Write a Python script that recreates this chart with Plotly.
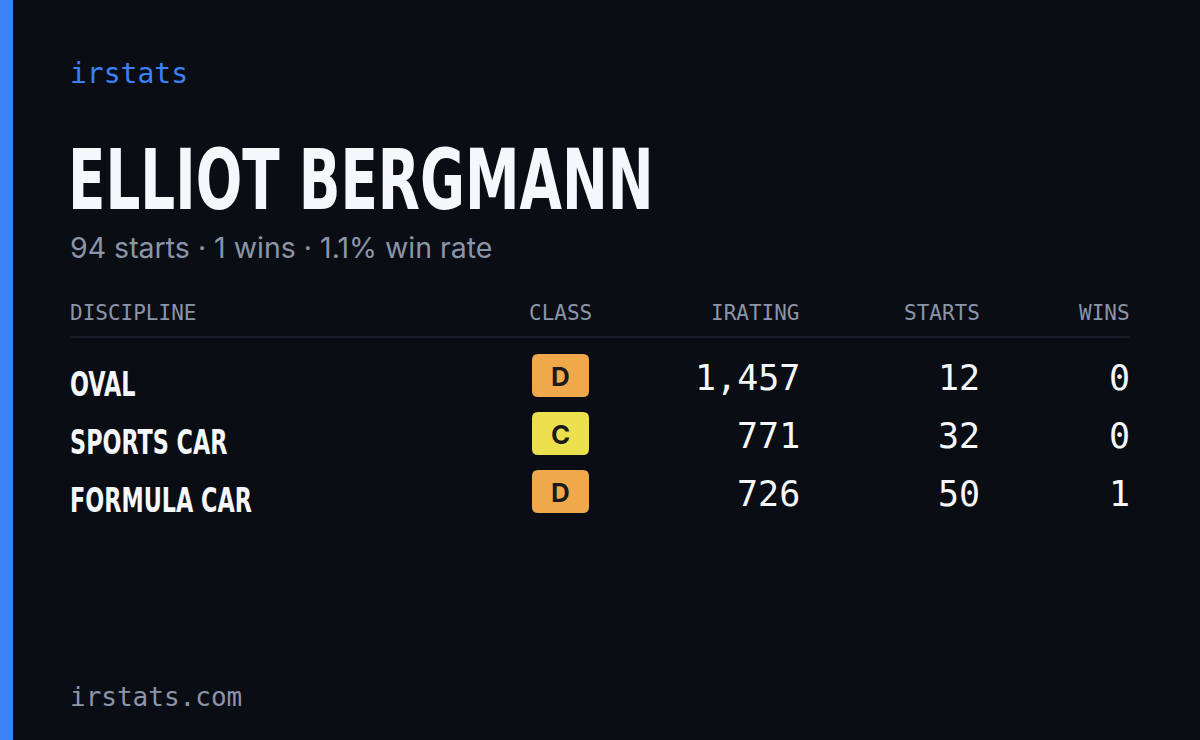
import json
import plotly.graph_objects as go

brand = "irstats"
footer = "irstats.com"
driver = "ELLIOT BERGMANN"
summary = "94 starts · 1 wins · 1.1% win rate"
headers = ["DISCIPLINE", "CLASS", "IRATING", "STARTS", "WINS"]
disciplines = ["OVAL", "SPORTS CAR", "FORMULA CAR"]
classes = ["D", "C", "D"]
iratings = [1457, 771, 726]
starts = [12, 32, 50]
wins = [0, 0, 1]

BG = "#0a0d14"
BLUE = "#3b82f6"
MUTED = "#8b95a8"
WHITE = "#f5f7fa"
CLASS_COL = {"D": "#f0a94a", "C": "#ede04f"}
MONO = "DejaVu Sans Mono"
COND = "DejaVu Sans Condensed"

fig = go.Figure()
ann = []
shapes = []

def A(x, y, t, size, color, family, xanchor="left", weight="normal"):
    ann.append(dict(x=x, y=y, xref="x", yref="y", text=t, showarrow=False,
                    xanchor=xanchor, yanchor="middle",
                    font=dict(size=size, color=color, family=family, weight=weight)))

shapes.append(dict(type="rect", x0=0, x1=13, y0=0, y1=740, fillcolor=BLUE, line_width=0, layer="below"))
A(68, 73, brand, 28, BLUE, MONO)
A(66, 180, driver, 84, WHITE, COND, weight="bold")
A(68, 247, summary, 28.5, MUTED, "Inter")
hx = [(68, "left"), (560, "center"), (802, "right"), (982, "right"), (1132, "right")]
for (x, anc), h in zip(hx, headers):
    A(x, 313, h, 21, MUTED, MONO, anc)
shapes.append(dict(type="line", x0=70, x1=1130, y0=337, y1=337, line=dict(color="#1e2330", width=1.5)))

def rr(x0, y0, x1, y1, r):
    return (f"M{x0+r},{y0} L{x1-r},{y0} Q{x1},{y0} {x1},{y0+r} L{x1},{y1-r} Q{x1},{y1} {x1-r},{y1} "
            f"L{x0+r},{y1} Q{x0},{y1} {x0},{y1-r} L{x0},{y0+r} Q{x0},{y0} {x0+r},{y0} Z")

for i, (d, c, ir, s, w) in enumerate(zip(disciplines, classes, iratings, starts, wins)):
    y = 380 + i * 58
    A(68, y + 4, d, 34, WHITE, COND, weight="bold")
    shapes.append(dict(type="path", path=rr(532, y - 26, 589, y + 17, 6), fillcolor=CLASS_COL[c], line_width=0))
    A(560, y - 4, c, 26, "#1a1a1a", "Inter", "center", weight="bold")
    A(802, y - 2, f"{ir:,}", 35, WHITE, MONO, "right")
    A(982, y - 2, str(s), 35, WHITE, MONO, "right")
    A(1132, y - 2, str(w), 35, WHITE, MONO, "right")

A(68, 697, footer, 26, MUTED, MONO)

fig.update_layout(width=1200, height=740, margin=dict(l=0, r=0, t=0, b=0),
                  paper_bgcolor=BG, plot_bgcolor=BG, showlegend=False,
                  xaxis=dict(range=[0, 1200], visible=False, fixedrange=True),
                  yaxis=dict(range=[740, 0], visible=False, fixedrange=True),
                  annotations=ann, shapes=shapes)

squeeze = {driver: 0.725}
squeeze.update({d: 0.73 for d in disciplines})
js = """
document.body.style.margin='0';document.body.style.background='#0a0d14';
var SQ = %s;
function sq(){document.querySelectorAll('.annotation-text').forEach(function(t){
  var k=SQ[t.textContent]; if(k){t.style.transformBox='fill-box';t.style.transformOrigin='left center';t.style.transform='scaleX('+k+')';}});}
sq(); var gd=document.getElementById('{plot_id}'); if(gd&&gd.on){gd.on('plotly_afterplot',sq);}
""" % json.dumps(squeeze)
fig.write_html("out.html", config={"displayModeBar": False}, post_script=js)
